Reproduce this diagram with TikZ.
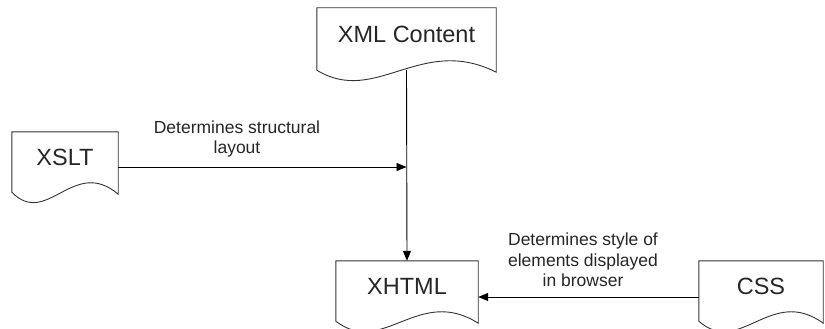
\documentclass[tikz,border=0pt]{standalone}
\usepackage{fontspec}
\setmainfont{Liberation Sans}
\usetikzlibrary{arrows.meta,calc}
\tikzset{
  doc/.style={shape=rectangle, inner sep=0pt, minimum width=#1, minimum height=60pt,
    text height=16.8pt, text depth=10pt, text=black!85,
    font=\fontsize{23.5}{28}\selectfont},
  lbl/.style={align=center, inner sep=0pt, text=black!85,
    font=\fontsize{17.5}{20.5}\selectfont},
  outline/.style={draw=black!80, line width=0.9pt},
  arr/.style={draw=black, line width=0.9pt, -{Triangle[length=10pt,width=8pt]}}
}
\begin{document}
\begin{tikzpicture}[x=1pt,y=-1pt]
\useasboundingbox (0,0) rectangle (825,329);
\node[doc=179pt, minimum height=62pt] (xml) at (406.5,39) {XML Content};
\node[doc=106pt] (xslt) at (65,162) {XSLT};
\node[doc=142pt] (xhtml) at (407,291) {XHTML};
\node[doc=124pt] (css) at (761,291) {CSS};
\foreach \n in {xml,xslt,xhtml,css}{
  \draw[outline] (\n.north west) -- (\n.north east) -- ($(\n.south east)+(0,2)$)
    .. controls ($(\n.south west)!0.58!(\n.south east)+(0,-36)$)
    and ($(\n.south west)!0.33!(\n.south east)+(0,36)$) .. (\n.south west) -- cycle;
}
\node[lbl] (lab1) at (237,139) {Determines structural\\layout};
\node[lbl] (lab2) at (583,260) {Determines style of\\elements displayed\\in browser};
\draw[arr] (xml.south) -- (xhtml.north);
\draw[arr] ([yshift=-5pt]xslt.east) -- ([yshift=-5pt]xslt.east -| xml.south);
\draw[arr] ([yshift=-6pt]css.west) -- ([yshift=-6pt]css.west -| xhtml.east);
\end{tikzpicture}
\end{document}
